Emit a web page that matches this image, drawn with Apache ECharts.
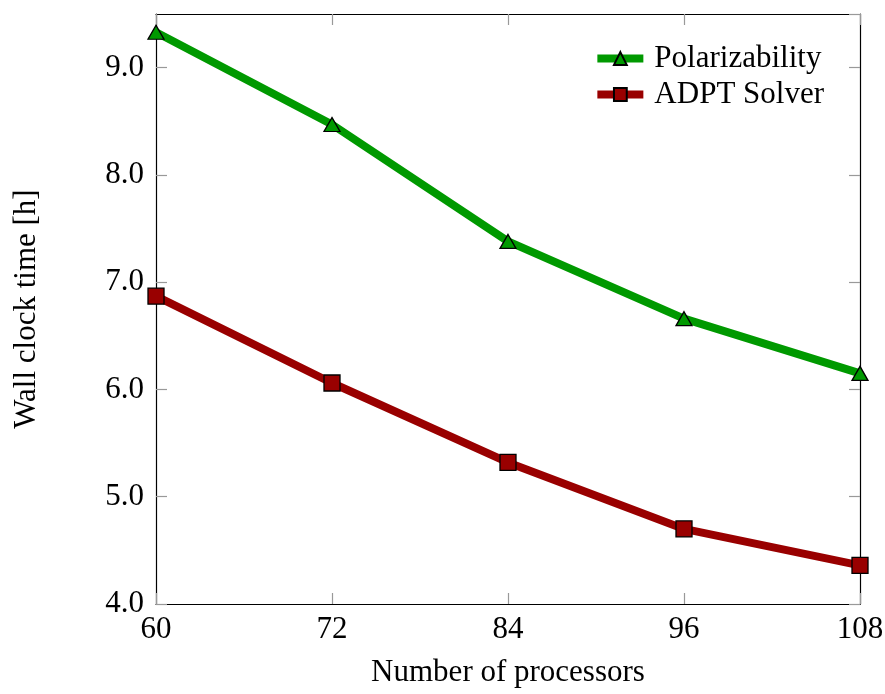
<!DOCTYPE html>
<html>
<head>
<meta charset="utf-8">
<script src="https://cdn.jsdelivr.net/npm/echarts@6/dist/echarts.min.js"></script>
<style>
  html, body { margin: 0; padding: 0; background: #fff; }
  #chart { width: 885px; height: 694px; }
</style>
</head>
<body>
<div id="chart"></div>
<script>
var processors = [60, 72, 84, 96, 108];
var polarizability = [9.33, 8.47, 7.38, 6.66, 6.15];
var adptSolver = [6.87, 6.06, 5.32, 4.70, 4.36];

var FONT = 'Liberation Serif';
var FS = 31;
var chart = echarts.init(document.getElementById('chart'));

function pairs(xs, ys) {
    var out = [];
    for (var i = 0; i < xs.length; i++) out.push([xs[i], ys[i]]);
    return out;
}

var tickStyle = { show: true, inside: true, length: 11, lineStyle: { color: '#999', width: 1.2 } };
var lineStyleAxis = { show: true, lineStyle: { color: '#000', width: 1.2 } };

var option = {
    backgroundColor: '#fff',
    animation: false,
    grid: { left: 156, right: 25, top: 14, bottom: 90, outerBoundsMode: 'none', containLabel: false },
    legend: {
        right: 56,
        top: 38,
        orient: 'vertical',
        itemWidth: 46,
        itemHeight: 16,
        itemGap: 5,
        lineStyle: { width: 8 },
        textStyle: { fontFamily: FONT, fontSize: FS, color: '#000', padding: [0, 0, 0, 6] },
        data: ['Polarizability', 'ADPT Solver']
    },
    xAxis: [{
        type: 'value',
        min: 60, max: 108, interval: 12,
        name: 'Number of processors',
        nameLocation: 'middle',
        nameGap: 53,
        nameTextStyle: { fontFamily: FONT, fontSize: FS, color: '#000' },
        axisLine: lineStyleAxis,
        axisTick: tickStyle,
        splitLine: { show: false },
        axisLabel: { fontFamily: FONT, fontSize: FS, color: '#000', margin: 10 }
    }, {
        type: 'value', position: 'top',
        min: 60, max: 108, interval: 12,
        axisLine: lineStyleAxis,
        axisTick: tickStyle,
        splitLine: { show: false },
        axisLabel: { show: false }
    }],
    yAxis: [{
        type: 'value',
        min: 4, max: 9.5, interval: 1,
        name: 'Wall clock time [h]',
        nameLocation: 'middle',
        nameGap: 114,
        nameTextStyle: { fontFamily: FONT, fontSize: FS, color: '#000' },
        axisLine: lineStyleAxis,
        axisTick: tickStyle,
        splitLine: { show: false },
        axisLabel: {
            fontFamily: FONT, fontSize: FS, color: '#000', margin: 12,
            showMaxLabel: false,
            formatter: function (v) { return v.toFixed(1); }
        }
    }, {
        type: 'value', position: 'right',
        min: 4, max: 9.5, interval: 1,
        axisLine: lineStyleAxis,
        axisTick: tickStyle,
        splitLine: { show: false },
        axisLabel: { show: false }
    }],
    series: [{
        name: 'Polarizability',
        type: 'line',
        data: pairs(processors, polarizability),
        symbol: 'triangle',
        symbolSize: [16, 14],
        showAllSymbol: true,
        lineStyle: { color: '#009900', width: 8 },
        itemStyle: { color: '#009900', borderColor: '#000', borderWidth: 1.3 },
        z: 3
    }, {
        name: 'ADPT Solver',
        type: 'line',
        data: pairs(processors, adptSolver),
        symbol: 'rect',
        symbolSize: 16,
        showAllSymbol: true,
        lineStyle: { color: '#990000', width: 8 },
        itemStyle: { color: '#990000', borderColor: '#000', borderWidth: 1.3 },
        z: 3
    }]
};
chart.setOption(option);
</script>
</body>
</html>
